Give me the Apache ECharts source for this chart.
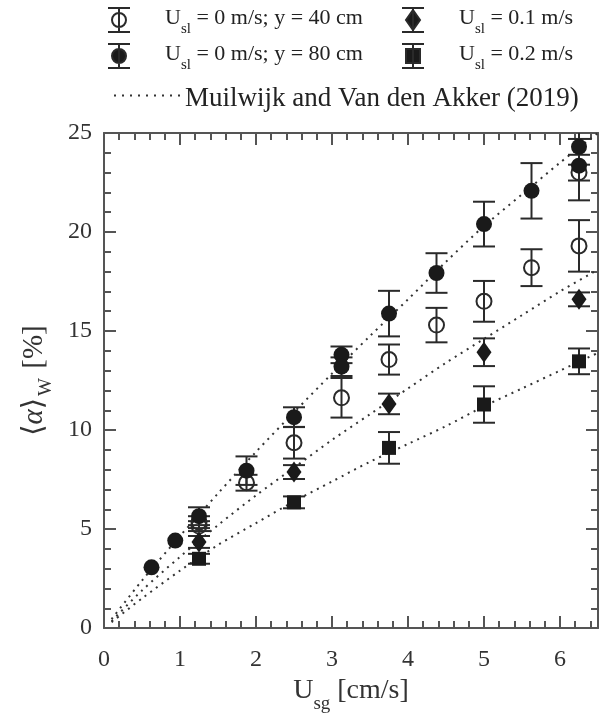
<!DOCTYPE html>
<html>
<head>
<meta charset="utf-8">
<script src="https://cdn.jsdelivr.net/npm/echarts@6/dist/echarts.min.js"></script>
<style>html,body{margin:0;padding:0;background:#fff;}#c{width:606px;height:719px;}</style>
</head>
<body>
<div id="c"></div>
<script>
// ---- data ----
const xOpen   = [1.25, 1.25, 1.875, 2.5, 3.125, 3.75, 4.375, 5.0, 5.625, 6.25, 6.25];
const yOpen   = [5.35, 5.15, 7.34, 9.36, 11.63, 13.56, 15.3, 16.5, 18.2, 19.3, 23.0];
const eOpen   = [0.3, 0.25, 0.4, 0.8, 1.0, 0.76, 0.87, 1.03, 0.93, 1.3, 0.4];

const xFilled = [0.625, 0.9375, 1.25, 1.875, 2.5, 3.125, 3.125, 3.75, 4.375, 5.0, 5.625, 6.25, 6.25];
const yFilled = [3.07, 4.42, 5.65, 7.95, 10.65, 13.8, 13.2, 15.88, 17.93, 20.4, 22.08, 24.3, 23.35];
const eFilled = [0, 0, 0.45, 0.72, 0.5, 0.42, 0.47, 1.15, 1.0, 1.13, 1.4, 0.4, 1.75];

const xDiamond = [1.25, 2.5, 3.75, 5.0, 6.25];
const yDiamond = [4.35, 7.88, 11.32, 13.93, 16.6];
const eDiamond = [0.3, 0.35, 0.52, 0.7, 0.35];

const xSquare = [1.25, 2.5, 3.75, 5.0, 6.25];
const ySquare = [3.5, 6.35, 9.1, 11.29, 13.47];
const eSquare = [0.25, 0.3, 0.8, 0.92, 0.65];

const xModel  = [0.1, 0.5, 1, 1.5, 2, 2.5, 3, 3.5, 4, 4.5, 5, 5.5, 6, 6.5];
const yModel0 = [0.45, 2.4, 4.65, 6.8, 8.9, 10.9, 12.85, 14.75, 16.6, 18.5, 20.3, 21.9, 23.5, 25.0];
const yModel1 = [0.35, 1.9, 3.6, 5.2, 6.7, 8.1, 9.5, 10.8, 12.1, 13.4, 14.6, 15.8, 17.0, 18.1];
const yModel2 = [0.3, 1.5, 2.9, 4.2, 5.3, 6.4, 7.4, 8.4, 9.3, 10.2, 11.2, 12.1, 13.0, 13.9];

const xTicks = [0, 1, 2, 3, 4, 5, 6];
const yTicks = [0, 5, 10, 15, 20, 25];

// ---- styling ----
const FONT = "'Liberation Serif','DejaVu Serif',serif";
const AX = '#555';
const INK = '#1a1a1a';
const EB = '#2a2a2a';

const zip3 = (x, y, e) => x.map((v, i) => [v, y[i], e[i]]);
const zip2 = (x, y) => x.map((v, i) => [v, y[i]]);

function errRender(params, api) {
  const x = api.value(0), y = api.value(1), e = api.value(2);
  if (!e) return null;
  const hi = api.coord([x, y + e]);
  const lo = api.coord([x, y - e]);
  const hw = 11;
  const st = {stroke: EB, lineWidth: 2, fill: null};
  return {type: 'group', children: [
    {type: 'line', shape: {x1: hi[0], y1: hi[1], x2: lo[0], y2: lo[1]}, style: st},
    {type: 'line', shape: {x1: hi[0] - hw, y1: hi[1], x2: hi[0] + hw, y2: hi[1]}, style: st},
    {type: 'line', shape: {x1: lo[0] - hw, y1: lo[1], x2: lo[0] + hw, y2: lo[1]}, style: st}
  ]};
}
function errSeries(x, y, e) {
  return {type: 'custom', renderItem: errRender, data: zip3(x, y, e), clip: true, z: 2, silent: true,
    encode: {x: 0, y: [1]}};
}

function mkX(pos, interval, len, showLabel, showLine) {
  return {type: 'value', position: pos, min: 0, max: 6.5, interval: interval,
    axisLine: {show: showLine, onZero: false, lineStyle: {color: AX, width: 2}},
    axisTick: {show: true, inside: true, length: len, lineStyle: {color: AX, width: 2}},
    axisLabel: {show: showLabel, margin: 20, fontFamily: FONT, fontSize: 24, color: '#333',
      formatter: v => (xTicks.indexOf(v) >= 0 ? String(v) : '')},
    splitLine: {show: false}};
}
function mkY(pos, interval, len, showLabel, showLine) {
  return {type: 'value', position: pos, min: 0, max: 25, interval: interval,
    axisLine: {show: showLine, onZero: false, lineStyle: {color: AX, width: 2}},
    axisTick: {show: true, inside: true, length: len, lineStyle: {color: AX, width: 2}},
    axisLabel: {show: showLabel, margin: 12, fontFamily: FONT, fontSize: 24, color: '#333',
      formatter: v => (yTicks.indexOf(v) >= 0 ? String(v) : '')},
    splitLine: {show: false}};
}

const xMain = mkX('bottom', 1, 12, true, true);
xMain.name = '{u|U}{s|sg}{u| [cm/s]}';
xMain.nameLocation = 'middle';
xMain.nameGap = 41;
xMain.nameTextStyle = {rich: {
  u: {fontFamily: FONT, fontSize: 28, color: '#333', lineHeight: 30, verticalAlign: 'top'},
  s: {fontFamily: FONT, fontSize: 19, color: '#333', lineHeight: 20, verticalAlign: 'top', padding: [18, 0, 0, 0]}
}};
const yMain = mkY('left', 5, 12, true, true);
yMain.name = '{u|\u27E8}{a|\u03B1}{u|\u27E9}{s|W}{u| [%]}';
yMain.nameLocation = 'middle';
yMain.nameGap = 54;
yMain.nameTextStyle = {rich: {
  u: {fontFamily: FONT, fontSize: 29, color: '#333', lineHeight: 30, verticalAlign: 'top'},
  a: {fontFamily: FONT, fontStyle: 'italic', fontSize: 29, color: '#333', lineHeight: 30, verticalAlign: 'top'},
  s: {fontFamily: FONT, fontSize: 19, color: '#333', lineHeight: 20, verticalAlign: 'top', padding: [17, 2, 0, 2]}
}};

const richLegend = {
  sp: {width: 30},
  u: {fontFamily: FONT, fontSize: 22, color: '#222', lineHeight: 26, verticalAlign: 'top'},
  s: {fontFamily: FONT, fontSize: 15, color: '#222', lineHeight: 16, verticalAlign: 'top', padding: [15, 0, 0, 0]}
};
const NAMES = {
  open: 'U_sl = 0 m/s; y = 40 cm',
  filled: 'U_sl = 0 m/s; y = 80 cm',
  diamond: 'U_sl = 0.1 m/s',
  square: 'U_sl = 0.2 m/s',
  model: 'Muilwijk and Van den Akker (2019)'
};
const LEGEND_TEXT = {
  open: '{sp|}{u|U}{s|sl}{u| = 0 m/s; y = 40 cm}',
  filled: '{sp|}{u|U}{s|sl}{u| = 0 m/s; y = 80 cm}',
  diamond: '{sp|}{u|U}{s|sl}{u| = 0.1 m/s}',
  square: '{sp|}{u|U}{s|sl}{u| = 0.2 m/s}'
};
const BAR = 'M-11,-12H11M0,-12V12M-11,12H11';
const ICONS = {
  open: 'path://' + BAR + 'M7,0A7,7,0,1,1,-7,0A7,7,0,1,1,7,0Z',
  filled: 'path://' + BAR + 'M7,0A7,7,0,1,1,-7,0A7,7,0,1,1,7,0Z',
  diamond: 'path://' + BAR + 'M0,-10L7,0L0,10L-7,0Z',
  square: 'path://' + BAR + 'M-7,-7H7V7H-7Z'
};
function mkLegend(key, left, top, fill) {
  return {
    left: left, top: top, orient: 'horizontal', selectedMode: false,
    itemWidth: 22, itemHeight: 24, padding: 0,
    data: [{name: NAMES[key], icon: ICONS[key],
      itemStyle: {color: fill, borderColor: EB, borderWidth: 2}}],
    formatter: () => LEGEND_TEXT[key],
    textStyle: {rich: richLegend}
  };
}

const option = {
  backgroundColor: '#fff',
  animation: false,
  grid: {left: 104, right: 8, top: 133, bottom: 90},
  legend: [
    mkLegend('open', 107, 7, 'rgba(0,0,0,0)'),
    mkLegend('filled', 107, 43, INK),
    mkLegend('diamond', 401, 7, INK),
    mkLegend('square', 401, 43, INK),
    {
      left: 114, top: 79, selectedMode: false, padding: 0,
      itemWidth: 66, itemHeight: 2,
      data: [{name: NAMES.model,
        icon: 'path://M0,0h2v2h-2zM8,0h2v2h-2zM16,0h2v2h-2zM24,0h2v2h-2zM32,0h2v2h-2zM40,0h2v2h-2zM48,0h2v2h-2zM56,0h2v2h-2zM64,0h2v2h-2z',
        itemStyle: {color: '#333', borderWidth: 0}}],
      formatter: () => '{u|Muilwijk and Van den Akker (2019)}',
      textStyle: {rich: {u: {fontFamily: FONT, fontSize: 27, color: '#222', lineHeight: 30, padding: [6, 0, 0, 0]}}}
    }
  ],
  xAxis: [
    xMain,
    mkX('bottom', 0.2, 7, false, false),
    mkX('top', 1, 12, false, true),
    mkX('top', 0.2, 7, false, false)
  ],
  yAxis: [
    yMain,
    mkY('left', 1, 7, false, false),
    mkY('right', 5, 12, false, true),
    mkY('right', 1, 7, false, false)
  ],
  series: [
    {name: NAMES.model, type: 'line', data: zip2(xModel, yModel0), smooth: 0.3, symbol: 'none', z: 1,
      lineStyle: {color: '#333', width: 2, type: [2, 5]}},
    {name: NAMES.model, type: 'line', data: zip2(xModel, yModel1), smooth: 0.3, symbol: 'none', z: 1,
      lineStyle: {color: '#333', width: 2, type: [2, 5]}},
    {name: NAMES.model, type: 'line', data: zip2(xModel, yModel2), smooth: 0.3, symbol: 'none', z: 1,
      lineStyle: {color: '#333', width: 2, type: [2, 5]}},
    errSeries(xOpen, yOpen, eOpen),
    errSeries(xFilled, yFilled, eFilled),
    errSeries(xDiamond, yDiamond, eDiamond),
    errSeries(xSquare, ySquare, eSquare),
    {name: NAMES.open, type: 'scatter', data: zip2(xOpen, yOpen), symbol: 'circle', symbolSize: 15, z: 3,
      itemStyle: {color: 'rgba(0,0,0,0)', borderColor: EB, borderWidth: 2, opacity: 1}},
    {name: NAMES.filled, type: 'scatter', data: zip2(xFilled, yFilled), symbol: 'circle', symbolSize: 16, z: 4,
      itemStyle: {color: INK, opacity: 1}},
    {name: NAMES.diamond, type: 'scatter', data: zip2(xDiamond, yDiamond), symbol: 'diamond', symbolSize: [15, 21], z: 4,
      itemStyle: {color: INK, opacity: 1}},
    {name: NAMES.square, type: 'scatter', data: zip2(xSquare, ySquare), symbol: 'rect', symbolSize: 14, z: 4,
      itemStyle: {color: INK, opacity: 1}}
  ]
};

const chart = echarts.init(document.getElementById('c'), null, {renderer: 'canvas'});
chart.setOption(option);
</script>
</body>
</html>
